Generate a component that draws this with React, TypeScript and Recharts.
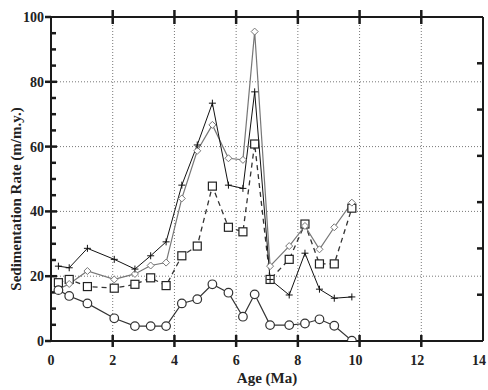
import React from 'react';
import { LineChart, Line, XAxis, YAxis, ReferenceLine } from 'recharts';

const ages = [0.24, 0.59, 1.18, 2.05, 2.72, 3.23, 3.73, 4.24, 4.74, 5.23, 5.75, 6.22, 6.6, 7.1, 7.72, 8.23, 8.7, 9.18, 9.75];
const plusSeries = [23.1, 22.6, 28.6, 25.2, 22.2, 26.3, 30.6, 48.1, 60.5, 73.4, 48.1, 47.1, 76.9, 19.0, 14.2, 27.1, 16.0, 13.2, 13.6];
const diamondSeries = [16.0, 17.6, 21.6, 19.0, 20.7, 23.3, 24.2, 44.0, 58.7, 66.7, 56.4, 55.9, 95.5, 23.1, 29.3, 35.5, 28.3, 35.1, 42.7];
const squareSeries = [18.0, 19.0, 16.8, 16.3, 17.5, 19.5, 17.1, 26.3, 29.3, 47.8, 35.1, 33.7, 60.8, 19.0, 25.2, 36.1, 23.8, 23.8, 41.0];
const circleSeries = [15.7, 13.9, 11.6, 7.0, 4.6, 4.6, 4.6, 11.6, 12.9, 17.5, 14.9, 7.5, 14.4, 4.9, 4.9, 5.4, 6.7, 4.7, 0.1];

const xTicks = [0, 2, 4, 6, 8, 10, 12, 14];
const xInnerTicks = [2, 4, 6, 8, 10, 12];
const yTicks = [0, 20, 40, 60, 80, 100];
const yMinorTicks = [5, 10, 15, 25, 30, 35, 45, 50, 55, 65, 70, 75, 85, 90, 95];
const yRightTicks = [100 / 7, 200 / 7, 300 / 7, 400 / 7, 500 / 7, 600 / 7];
const X_MIN = 0;
const X_MAX = 14;
const Y_MIN = 0;
const Y_MAX = 100;

const data = ages.map((age, i) => ({
  age,
  plus: plusSeries[i],
  diamond: diamondSeries[i],
  square: squareSeries[i],
  circle: circleSeries[i],
}));

const W = 488;
const H = 390;
const M = { top: 17, right: 5, bottom: 49, left: 51 };
const PLOT_W = W - M.left - M.right;
const PLOT_H = H - M.top - M.bottom;
const XU = (X_MAX - X_MIN) / PLOT_W; // data units per pixel
const YU = (Y_MAX - Y_MIN) / PLOT_H;

const FONT = '"Liberation Serif", "Times New Roman", serif';
const INK = '#1a1a1a';

const bottomLabel = (props: any) => {
  const { x, y, payload, index } = props;
  const v = payload.value;
  const dx = v >= 10 ? -4 : 0;
  return (
    <text key={`bl-${index}`} x={x + dx} y={y + 11} textAnchor="middle" fontFamily={FONT} fontWeight="bold" fontSize={14} fill="#222">
      {v}
    </text>
  );
};

const leftLabel = (props: any) => {
  const { x, y, payload, index } = props;
  return (
    <text key={`ll-${index}`} x={x} y={y + 5} textAnchor="end" fontFamily={FONT} fontWeight="bold" fontSize={14} fill="#222">
      {payload.value}
    </text>
  );
};

const PlusDot = (p: any) => {
  const { cx, cy, index } = p;
  if (cx == null || cy == null) return <g key={`pl-${index}`} />;
  return (
    <path key={`pl-${index}`} d={`M${cx - 3.5},${cy}h7M${cx},${cy - 3.5}v7`} stroke="#111" strokeWidth={1} fill="none" />
  );
};

const DiamondDot = (p: any) => {
  const { cx, cy, index } = p;
  if (cx == null || cy == null) return <g key={`di-${index}`} />;
  return (
    <polygon
      key={`di-${index}`}
      points={`${cx},${cy - 3.5} ${cx + 3.5},${cy} ${cx},${cy + 3.5} ${cx - 3.5},${cy}`}
      fill="#fff"
      stroke="#777"
      strokeWidth={1}
    />
  );
};

const SquareDot = (p: any) => {
  const { cx, cy, index } = p;
  if (cx == null || cy == null) return <g key={`sq-${index}`} />;
  return <rect key={`sq-${index}`} x={cx - 4} y={cy - 4} width={8} height={8} fill="#fff" stroke="#222" strokeWidth={1.2} />;
};

const CircleDot = (p: any) => {
  const { cx, cy, index } = p;
  if (cx == null || cy == null) return <g key={`ci-${index}`} />;
  return <circle key={`ci-${index}`} cx={cx} cy={cy} r={4.3} fill="#fff" stroke="#333" strokeWidth={1.2} />;
};

const YLabel = (props: any) => {
  const vb = props.viewBox || {};
  const cx = 16;
  const cy = (vb.y || 0) + (vb.height || 0) / 2 + 20;
  return (
    <text
      x={cx}
      y={cy}
      transform={`rotate(-90 ${cx} ${cy})`}
      textAnchor="middle"
      dominantBaseline="central"
      fontFamily={FONT}
      fontWeight="bold"
      fontSize={15}
      fill="#222"
    >
      Sedimentation Rate (m/m.y.)
    </text>
  );
};

const XLabel = (props: any) => {
  const vb = props.viewBox || {};
  const cx = (vb.x || 0) + (vb.width || 0) / 2;
  const cy = (vb.y || 0) + 42;
  return (
    <text x={cx} y={cy} textAnchor="middle" fontFamily={FONT} fontWeight="bold" fontSize={15} fill="#222">
      Age (Ma)
    </text>
  );
};

const tickSeg = (key: string, a: { x: number; y: number }, b: { x: number; y: number }) => (
  <ReferenceLine key={key} segment={[a, b]} stroke={INK} strokeWidth={2.5} ifOverflow="visible" />
);

export default function App() {
  return (
    <div style={{ position: 'absolute', left: 0, top: 0, background: '#fff' }}>
      <LineChart width={W} height={H} data={data} margin={{ top: M.top, right: M.right, bottom: 0, left: 0 }}>
        <XAxis
          dataKey="age"
          type="number"
          domain={[X_MIN, X_MAX]}
          ticks={xTicks}
          allowDataOverflow
          axisLine={{ stroke: INK, strokeWidth: 2 }}
          tickLine={false}
          tickSize={6}
          tickMargin={7}
          tick={bottomLabel}
          height={M.bottom}
          interval={0}
          label={<XLabel />}
        />
        <YAxis
          type="number"
          domain={[Y_MIN, Y_MAX]}
          ticks={yTicks}
          allowDataOverflow
          axisLine={{ stroke: INK, strokeWidth: 2 }}
          tickLine={false}
          tickSize={6}
          tickMargin={1}
          tick={leftLabel}
          width={M.left}
          interval={0}
          label={<YLabel />}
        />
        {xInnerTicks.map((v) => (
          <ReferenceLine key={`gx-${v}`} x={v} stroke="#777" strokeWidth={1} strokeDasharray="1 2" />
        ))}
        {yTicks
          .filter((v) => v > Y_MIN && v < Y_MAX)
          .map((v) => (
            <ReferenceLine key={`gy-${v}`} y={v} stroke="#777" strokeWidth={1} strokeDasharray="1 2" />
          ))}
        <ReferenceLine y={Y_MAX} stroke={INK} strokeWidth={2} ifOverflow="visible" />
        <ReferenceLine x={X_MAX} stroke={INK} strokeWidth={2} ifOverflow="visible" />
        {xInnerTicks.map((v) => tickSeg(`bt-${v}`, { x: v, y: Y_MIN - 6 * YU }, { x: v, y: Y_MIN + 6 * YU }))}
        {xInnerTicks.map((v) => tickSeg(`tt-${v}`, { x: v, y: Y_MAX - 7 * YU }, { x: v, y: Y_MAX + 7 * YU }))}
        {yTicks.map((v) =>
          tickSeg(`lt-${v}`, { x: X_MIN - 6 * XU, y: v }, { x: X_MIN + (v > Y_MIN && v < Y_MAX ? 6 : 0) * XU, y: v })
        )}
        {yMinorTicks.map((v) => tickSeg(`lm-${v}`, { x: X_MIN, y: v }, { x: X_MIN + 5 * XU, y: v }))}
        {yRightTicks.map((v, i) => tickSeg(`rt-${i}`, { x: X_MAX - 6 * XU, y: v }, { x: X_MAX, y: v }))}
        <Line
          dataKey="square"
          stroke="#333"
          strokeWidth={1.3}
          strokeDasharray="5 4"
          dot={SquareDot}
          activeDot={false}
          isAnimationActive={false}
        />
        <Line dataKey="diamond" stroke="#777" strokeWidth={1.2} dot={DiamondDot} activeDot={false} isAnimationActive={false} />
        <Line dataKey="plus" stroke="#111" strokeWidth={1} dot={PlusDot} activeDot={false} isAnimationActive={false} />
        <Line dataKey="circle" stroke="#333" strokeWidth={1.2} dot={CircleDot} activeDot={false} isAnimationActive={false} />
      </LineChart>
    </div>
  );
}
